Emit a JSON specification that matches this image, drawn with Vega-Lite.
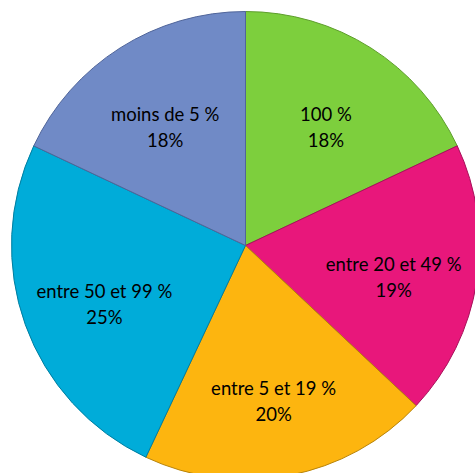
{
  "$schema": "https://vega.github.io/schema/vega-lite/v6.json",
  "width": 475,
  "height": 473,
  "autosize": {"type": "fit", "contains": "padding"},
  "padding": {"left": 16, "top": 18, "right": 0, "bottom": 0},
  "background": "white",
  "data": {
    "values": [
      {"cat": "100 %", "pct": 18, "ord": 1, "label": "100 %\n18%"},
      {"cat": "entre 20 et 49 %", "pct": 19, "ord": 2, "label": "entre 20 et 49 %\n19%"},
      {"cat": "entre 5 et 19 %", "pct": 20, "ord": 3, "label": "entre 5 et 19 %\n20%"},
      {"cat": "entre 50 et 99 %", "pct": 25, "ord": 4, "label": "entre 50 et 99 %\n25%"},
      {"cat": "moins de 5 %", "pct": 18, "ord": 5, "label": "moins de 5 %\n18%"}
    ]
  },
  "encoding": {
    "theta": {"field": "pct", "type": "quantitative", "stack": true},
    "order": {"field": "ord", "type": "quantitative"}
  },
  "layer": [
    {
      "mark": {"type": "arc", "outerRadius": 234, "strokeWidth": 1},
      "encoding": {
        "color": {
          "field": "cat", "type": "nominal", "legend": null,
          "scale": {
            "domain": ["100 %", "entre 20 et 49 %", "entre 5 et 19 %", "entre 50 et 99 %", "moins de 5 %"],
            "range": ["#7dcf3d", "#e8177b", "#fdb50f", "#00acd9", "#708ac6"]
          }
        },
        "stroke": {
          "field": "cat", "type": "nominal", "legend": null,
          "scale": {
            "domain": ["100 %", "entre 20 et 49 %", "entre 5 et 19 %", "entre 50 et 99 %", "moins de 5 %"],
            "range": ["#5e9e2c", "#a8105a", "#b8840a", "#007ea0", "#50659a"]
          }
        }
      }
    },
    {
      "mark": {"type": "text", "radius": 150, "lineBreak": "\n", "font": "Lato", "fontSize": 18.5, "lineHeight": 26, "color": "black", "baseline": "middle", "dy": -4},
      "encoding": {
        "text": {"field": "label", "type": "nominal"}
      }
    }
  ]
}
